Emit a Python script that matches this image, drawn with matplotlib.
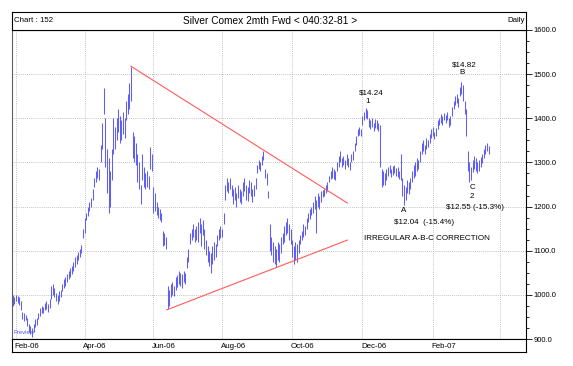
import numpy as np
import matplotlib.pyplot as plt
import pandas as pd

plt.rcParams["font.family"] = ["Liberation Sans", "DejaVu Sans"]

# daily highs / lows in cents, from 2006-01-30 (business days)
highs = [
    1000, 995, 1000, 998, 995, 985, 962, 958, 955, 948,
    935, 930, 925, 935, 945, 948, 960, 970, 975, 972,
    982, 985, 980, 990, 1020, 1025, 1015, 1005, 1000, 1008,
    1012, 1025, 1035, 1040, 1048, 1055, 1060, 1065, 1075, 1085,
    1090, 1098, 1105, 1112, 1150, 1175, 1185, 1200, 1210, 1220,
    1240, 1265, 1280, 1290, 1285, 1340, 1390, 1468, 1400, 1330,
    1310, 1280, 1330, 1400, 1380, 1400, 1420, 1405, 1395, 1415,
    1400, 1440, 1455, 1480, 1517, 1370, 1360, 1345, 1320, 1300,
    1250, 1320, 1290, 1275, 1280, 1270, 1335, 1320, 1245, 1230,
    1210, 1200, 1195, 1185, 1145, 1140, 1130, 1020, 1010, 1025,
    1030, 1020, 1040, 1045, 1055, 1050, 1048, 1055, 1050, 1085,
    1105, 1140, 1150, 1160, 1150, 1155, 1165, 1175, 1160, 1170,
    1150, 1125, 1110, 1100, 1095, 1110, 1120, 1115, 1135, 1150,
    1155, 1150, 1185, 1250, 1265, 1255, 1265, 1250, 1240, 1245,
    1230, 1250, 1240, 1235, 1255, 1265, 1250, 1245, 1260, 1255,
    1240, 1250, 1265, 1295, 1305, 1300, 1315, 1325, 1285, 1275,
    1235, 1160, 1130, 1120, 1110, 1105, 1120, 1115, 1130, 1140,
    1155, 1165, 1175, 1160, 1150, 1125, 1110, 1120, 1115, 1125,
    1135, 1145, 1160, 1155, 1175, 1185, 1195, 1200, 1210, 1225,
    1215, 1230, 1225, 1235, 1238, 1240, 1250, 1255, 1270, 1280,
    1290, 1285, 1280, 1300, 1315, 1325, 1310, 1315, 1305, 1320,
    1310, 1300, 1320, 1325, 1345, 1360, 1375, 1380, 1375, 1405,
    1415, 1424, 1418, 1400, 1395, 1400, 1390, 1398, 1395, 1390,
    1385, 1285, 1280, 1275, 1285, 1290, 1295, 1285, 1292, 1295,
    1288, 1290, 1280, 1320, 1265, 1250, 1245, 1260, 1255, 1265,
    1280, 1295, 1300, 1310, 1305, 1325, 1345, 1350, 1340, 1355,
    1350, 1365, 1375, 1380, 1370, 1378, 1395, 1400, 1410, 1405,
    1412, 1408, 1415, 1400, 1405, 1425, 1440, 1450, 1455, 1445,
    1470, 1482, 1475, 1440, 1420, 1325, 1300, 1290, 1305, 1315,
    1310, 1300, 1305, 1312, 1320, 1330, 1340, 1345, 1338,
]
lows = [
    975, 980, 985, 982, 978, 965, 945, 940, 942, 930,
    915, 912, 905, 915, 928, 932, 945, 952, 960, 958,
    965, 968, 962, 970, 990, 1000, 995, 985, 980, 985,
    995, 1008, 1015, 1020, 1028, 1035, 1040, 1048, 1055, 1062,
    1070, 1078, 1085, 1095, 1128, 1140, 1170, 1178, 1190, 1198,
    1215, 1245, 1255, 1265, 1260, 1300, 1330, 1410, 1290, 1230,
    1185, 1200, 1260, 1320, 1330, 1350, 1370, 1345, 1350, 1365,
    1355, 1395, 1410, 1420, 1440, 1310, 1300, 1295, 1255, 1240,
    1205, 1260, 1245, 1240, 1245, 1240, 1285, 1280, 1185, 1190,
    1180, 1175, 1170, 1165, 1110, 1112, 1105, 968, 975, 995,
    1000, 998, 1012, 1018, 1025, 1020, 1015, 1030, 1025, 1060,
    1075, 1115, 1125, 1130, 1120, 1125, 1120, 1140, 1110, 1135,
    1105, 1090, 1075, 1065, 1050, 1070, 1080, 1085, 1110, 1125,
    1128, 1130, 1160, 1215, 1235, 1230, 1240, 1225, 1205, 1215,
    1200, 1220, 1210, 1205, 1225, 1235, 1215, 1212, 1230, 1225,
    1210, 1225, 1240, 1275, 1285, 1280, 1295, 1305, 1265, 1250,
    1220, 1100, 1090, 1075, 1070, 1062, 1080, 1075, 1095, 1115,
    1120, 1135, 1140, 1125, 1115, 1085, 1070, 1080, 1075, 1095,
    1115, 1125, 1130, 1135, 1150, 1165, 1172, 1180, 1185, 1195,
    1140, 1200, 1195, 1210, 1222, 1225, 1230, 1235, 1255, 1262,
    1265, 1262, 1260, 1280, 1290, 1300, 1290, 1295, 1285, 1295,
    1290, 1282, 1300, 1305, 1325, 1340, 1360, 1362, 1360, 1385,
    1395, 1400, 1398, 1380, 1375, 1380, 1372, 1378, 1375, 1372,
    1290, 1245, 1250, 1248, 1260, 1270, 1275, 1268, 1272, 1275,
    1270, 1268, 1262, 1260, 1225, 1204, 1215, 1230, 1228, 1240,
    1255, 1265, 1270, 1280, 1285, 1300, 1320, 1325, 1318, 1330,
    1335, 1345, 1355, 1360, 1352, 1360, 1375, 1385, 1390, 1385,
    1395, 1390, 1395, 1380, 1385, 1405, 1420, 1430, 1435, 1425,
    1450, 1455, 1440, 1410, 1360, 1280, 1255, 1260, 1278, 1285,
    1280, 1275, 1280, 1290, 1298, 1310, 1318, 1325, 1320,
]

month_labels = ["Feb-06", "Apr-06", "Jun-06", "Aug-06", "Oct-06", "Dec-06", "Feb-07"]
price_ticks = [900, 1000, 1100, 1200, 1300, 1400, 1500, 1600]

# triangle trendlines: (bar index, price)
upper_line = [(73.9, 1518), (209.5, 1208)]
lower_line = [(96.4, 966), (209.5, 1124)]

bar_color = "#5f5ff2"
line_color = "#ff5a5a"
grid_color = "#b0b0b0"

days = pd.bdate_range("2006-01-30", "2007-04-30")
pos = np.arange(len(highs))

# first business day of every second month
month_pos = []
for i in range(1, len(days)):
    if days[i].month != days[i - 1].month and days[i].month % 2 == 0:
        month_pos.append(i)

W, H = 573, 366
fig = plt.figure(figsize=(W / 100, H / 100), dpi=100)

x0, x1 = 12 / W, 526 / W
ax = fig.add_axes([x0, 27 / H, x1 - x0, 309 / H])
head = fig.add_axes([x0, 336 / H, x1 - x0, 18 / H])
strip = fig.add_axes([x0, 14 / H, x1 - x0, 13 / H], sharex=ax)

ax.vlines(pos, lows, highs, color=bar_color, lw=0.75)

for pts in (upper_line, lower_line):
    ax.plot([p[0] for p in pts], [p[1] for p in pts], color=line_color, lw=0.8)

ax.set_xlim(-0.5, 321.4)
ax.set_ylim(900, 1600)
ax.set_xticks(month_pos)
ax.tick_params(axis="x", length=0, labelbottom=False)
ax.yaxis.tick_right()
ax.set_yticks(price_ticks)
ax.set_yticklabels([f"{v:.1f}" for v in price_ticks])
ax.set_yticks(np.arange(900, 1601, 25), minor=True)
ax.tick_params(axis="y", which="major", length=4, width=0.6, labelsize=5.5, pad=1.5)
ax.tick_params(axis="y", which="minor", length=2, width=0.6)
ax.grid(True, which="major", color=grid_color, ls=(0, (1, 1.5)), lw=0.6)
for side in ["left", "right", "top", "bottom"]:
    ax.spines[side].set_linewidth(0.8)
ax.spines["left"].set_color("#606060")

# annotations
font = dict(fontsize=5.8, ha="center", va="center")
ax.text(224.5, 1457, "$14.24", **font)
ax.text(222, 1439, "1", **font)
ax.text(283, 1521, "$14.82", **font)
ax.text(281.4, 1503, "B", **font)
ax.text(244.5, 1190, "A", **font)
ax.text(257.6, 1165, "$12.04  (-15.4%)", **font)
ax.text(287.6, 1244, "C", **font)
ax.text(287.6, 1222, "2", **font)
ax.text(289.5, 1199, "$12.55 (-15.3%)", **font)
ax.text(259.5, 1127, "IRREGULAR A-B-C CORRECTION", **font)
ax.text(0.002, 0.012, "Preview", transform=ax.transAxes, fontsize=4.2,
        color="#5050ff", ha="left", va="bottom", zorder=5)

# header
head.set_xticks([])
head.set_yticks([])
head.text(0.003, 0.5, "Chart : 152", fontsize=5.7, va="center", ha="left")
head.text(0.503, 0.5, "Silver Comex 2mth Fwd < 040:32-81 >", fontsize=7.3,
          va="center", ha="center")
head.text(0.997, 0.5, "Daily", fontsize=5.7, va="center", ha="right")
for s in head.spines.values():
    s.set_linewidth(0.8)

# month label strip
strip.set_ylim(0, 1)
strip.tick_params(axis="both", length=0, labelbottom=False, labelleft=False)
for p, lab in zip(month_pos, month_labels):
    strip.text(p - 0.8, 0.45, lab, fontsize=5.7, ha="left", va="center")
for s in strip.spines.values():
    s.set_linewidth(0.8)

fig.savefig("out.png", dpi=100)
